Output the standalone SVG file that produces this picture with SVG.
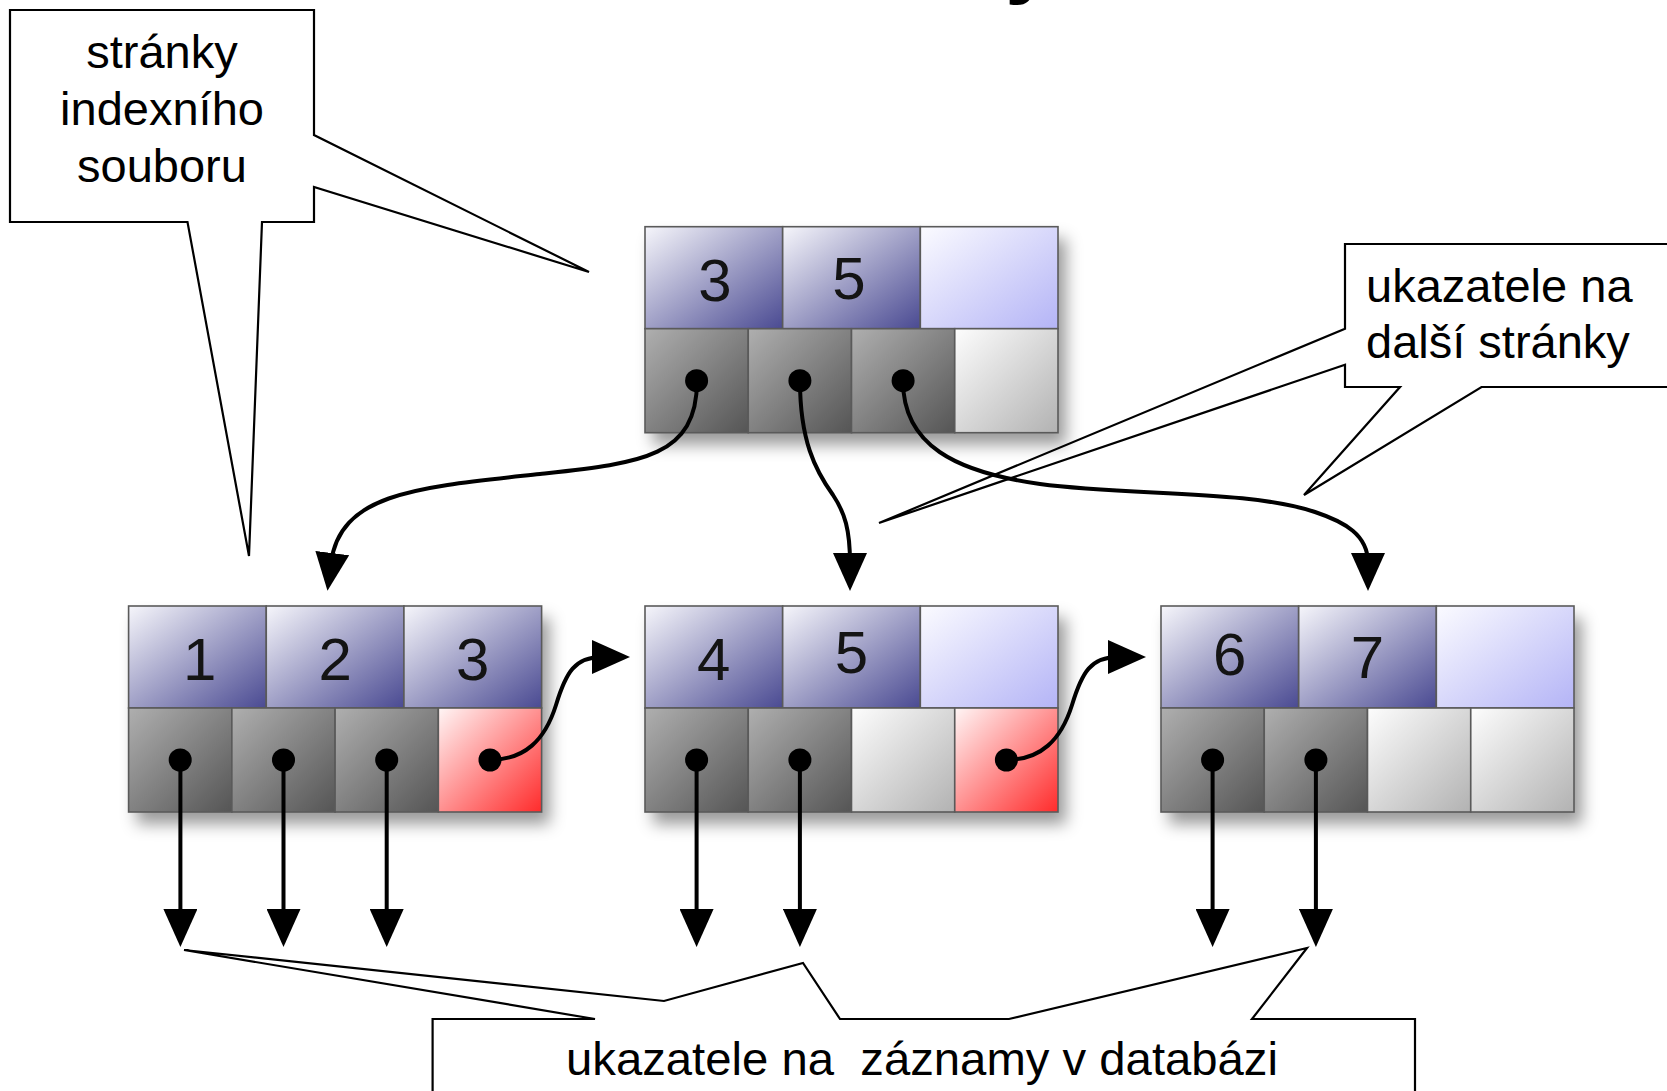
<svg xmlns="http://www.w3.org/2000/svg" width="1667" height="1091" viewBox="0 0 1667 1091">
<defs>
  <linearGradient id="gBlue" x1="0" y1="0" x2="1" y2="1"><stop offset="0" stop-color="#f6f6fb"/><stop offset="1" stop-color="#4a4a92"/></linearGradient>
  <linearGradient id="gLav" x1="0" y1="0" x2="1" y2="1"><stop offset="0" stop-color="#fbfbff"/><stop offset="1" stop-color="#b4b4f6"/></linearGradient>
  <linearGradient id="gGray" x1="0" y1="0" x2="1" y2="1"><stop offset="0" stop-color="#afafaf"/><stop offset="1" stop-color="#555555"/></linearGradient>
  <linearGradient id="gLight" x1="0" y1="0" x2="1" y2="1"><stop offset="0" stop-color="#fdfdfd"/><stop offset="1" stop-color="#b2b2b2"/></linearGradient>
  <linearGradient id="gRed" x1="0" y1="0" x2="1" y2="1"><stop offset="0" stop-color="#fff6f6"/><stop offset="1" stop-color="#ff2b2b"/></linearGradient>
  <filter id="shadow" x="-10%" y="-15%" width="130%" height="150%"><feDropShadow dx="8" dy="12" stdDeviation="8" flood-color="#000" flood-opacity="0.4"/></filter>
  <marker id="ah" markerUnits="userSpaceOnUse" markerWidth="38" markerHeight="34" viewBox="0 0 38 34" refX="10" refY="17" orient="auto"><path d="M0,0 L38,17 L0,34 Z" fill="#000"/></marker>
</defs>
<style>
  .cell{stroke:#5a5a5a;stroke-width:1.6}
  .key{font-family:"Liberation Sans",Arial,sans-serif;font-size:60px;fill:#141414;text-anchor:middle}
  .dot{fill:#000}
  .conn{fill:none;stroke:#000;stroke-width:4;marker-end:url(#ah)}
  .callout{fill:#fff;stroke:#000;stroke-width:2.2;stroke-linejoin:miter}
  .lbl{font-family:"Liberation Sans",Arial,sans-serif;font-size:47px;fill:#000}
</style>
<rect width="1667" height="1091" fill="#fff"/>
<text x="1005" y="-14" style="font-family:'Liberation Sans',Arial,sans-serif;font-size:90px;font-weight:bold" fill="#000">y</text>

<g id="callout-pages">
  <path class="callout" d="M10,10 H314 V135 L589,272 L314,187 V222 H262 L249,556 L187.5,222 H10 Z"/>
  <text class="lbl" x="162" y="68" text-anchor="middle">stránky</text>
  <text class="lbl" x="162" y="125" text-anchor="middle">indexního</text>
  <text class="lbl" x="162" y="182" text-anchor="middle">souboru</text>
</g>
<g id="callout-next">
  <path class="callout" d="M1345,244 H1690 V387 H1481.5 L1304,495 L1400,387 H1345 V364.7 L879,523 L1345,328.7 Z"/>
  <text class="lbl" x="1366" y="302">ukazatele na</text>
  <text class="lbl" x="1366" y="358">další stránky</text>
</g>
<g id="callout-records">
  <path class="callout" d="M432.6,1100 V1019 H595 L184,950 L664,1001 L803,963 L840,1019 H1009 L1307,948 L1252,1019 H1415 V1100 Z"/>
  <text class="lbl" x="922" y="1075" text-anchor="middle" xml:space="preserve" style="white-space:pre" textLength="712" lengthAdjust="spacingAndGlyphs">ukazatele na  záznamy v databázi</text>
</g>

<g id="node-root" transform="translate(645,226.7)">
  <rect width="413" height="206" fill="#fff" filter="url(#shadow)"/>
  <rect class="cell" x="0" y="0" width="137.67" height="102" fill="url(#gBlue)"/>
  <rect class="cell" x="137.67" y="0" width="137.67" height="102" fill="url(#gBlue)"/>
  <rect class="cell" x="275.33" y="0" width="137.67" height="102" fill="url(#gLav)"/>
  <rect class="cell" x="0" y="102" width="103.25" height="104" fill="url(#gGray)"/>
  <rect class="cell" x="103.25" y="102" width="103.25" height="104" fill="url(#gGray)"/>
  <rect class="cell" x="206.5" y="102" width="103.25" height="104" fill="url(#gGray)"/>
  <rect class="cell" x="309.75" y="102" width="103.25" height="104" fill="url(#gLight)"/>
  <text class="key" x="70" y="74">3</text>
  <text class="key" x="204" y="72">5</text>
  <circle class="dot" cx="51.6" cy="154" r="11.5"/>
  <circle class="dot" cx="154.9" cy="154" r="11.5"/>
  <circle class="dot" cx="258.1" cy="154" r="11.5"/>
</g>

<g id="node-left" transform="translate(128.6,606)">
  <rect width="413" height="206" fill="#fff" filter="url(#shadow)"/>
  <rect class="cell" x="0" y="0" width="137.67" height="102" fill="url(#gBlue)"/>
  <rect class="cell" x="137.67" y="0" width="137.67" height="102" fill="url(#gBlue)"/>
  <rect class="cell" x="275.33" y="0" width="137.67" height="102" fill="url(#gBlue)"/>
  <rect class="cell" x="0" y="102" width="103.25" height="104" fill="url(#gGray)"/>
  <rect class="cell" x="103.25" y="102" width="103.25" height="104" fill="url(#gGray)"/>
  <rect class="cell" x="206.5" y="102" width="103.25" height="104" fill="url(#gGray)"/>
  <rect class="cell" x="309.75" y="102" width="103.25" height="104" fill="url(#gRed)"/>
  <text class="key" x="71" y="74">1</text>
  <text class="key" x="206.5" y="74">2</text>
  <text class="key" x="344" y="74">3</text>
  <circle class="dot" cx="51.6" cy="154" r="11.5"/>
  <circle class="dot" cx="154.9" cy="154" r="11.5"/>
  <circle class="dot" cx="258.1" cy="154" r="11.5"/>
  <circle class="dot" cx="361.4" cy="154" r="11.5"/>
</g>

<g id="node-middle" transform="translate(645,606)">
  <rect width="413" height="206" fill="#fff" filter="url(#shadow)"/>
  <rect class="cell" x="0" y="0" width="137.67" height="102" fill="url(#gBlue)"/>
  <rect class="cell" x="137.67" y="0" width="137.67" height="102" fill="url(#gBlue)"/>
  <rect class="cell" x="275.33" y="0" width="137.67" height="102" fill="url(#gLav)"/>
  <rect class="cell" x="0" y="102" width="103.25" height="104" fill="url(#gGray)"/>
  <rect class="cell" x="103.25" y="102" width="103.25" height="104" fill="url(#gGray)"/>
  <rect class="cell" x="206.5" y="102" width="103.25" height="104" fill="url(#gLight)"/>
  <rect class="cell" x="309.75" y="102" width="103.25" height="104" fill="url(#gRed)"/>
  <text class="key" x="68.8" y="74">4</text>
  <text class="key" x="206.5" y="67">5</text>
  <circle class="dot" cx="51.6" cy="154" r="11.5"/>
  <circle class="dot" cx="154.9" cy="154" r="11.5"/>
  <circle class="dot" cx="361.4" cy="154" r="11.5"/>
</g>

<g id="node-right" transform="translate(1161,606)">
  <rect width="413" height="206" fill="#fff" filter="url(#shadow)"/>
  <rect class="cell" x="0" y="0" width="137.67" height="102" fill="url(#gBlue)"/>
  <rect class="cell" x="137.67" y="0" width="137.67" height="102" fill="url(#gBlue)"/>
  <rect class="cell" x="275.33" y="0" width="137.67" height="102" fill="url(#gLav)"/>
  <rect class="cell" x="0" y="102" width="103.25" height="104" fill="url(#gGray)"/>
  <rect class="cell" x="103.25" y="102" width="103.25" height="104" fill="url(#gGray)"/>
  <rect class="cell" x="206.5" y="102" width="103.25" height="104" fill="url(#gLight)"/>
  <rect class="cell" x="309.75" y="102" width="103.25" height="104" fill="url(#gLight)"/>
  <text class="key" x="68.8" y="69">6</text>
  <text class="key" x="206.5" y="72">7</text>
  <circle class="dot" cx="51.6" cy="154" r="11.5"/>
  <circle class="dot" cx="154.9" cy="154" r="11.5"/>
</g>

<g id="connectors">
  <path class="conn" d="M697,381 C697,458 640,463 540,474 C420,487 340,492 331,563"/>
  <path class="conn" d="M800,381 C800,440 815,470 833,495 C845,513 850,530 850,563"/>
  <path class="conn" d="M903,381 C903,445 955,472 1040,484 C1130,496 1250,490 1315,512 C1345,522 1368,535 1368,563"/>
  <path class="conn" d="M489,760 C525,760 545,740 556,705 C566,672 575,657 602,657"/>
  <path class="conn" d="M1005.4,760 C1041,760 1061,740 1072,705 C1082,672 1091,657 1118,657"/>
  <path class="conn" d="M180.4,760 V919"/>
  <path class="conn" d="M283.5,760 V919"/>
  <path class="conn" d="M386.7,760 V919"/>
  <path class="conn" d="M696.6,760 V919"/>
  <path class="conn" d="M799.9,760 V919"/>
  <path class="conn" d="M1212.6,760 V919"/>
  <path class="conn" d="M1315.9,760 V919"/>
</g>
</svg>
